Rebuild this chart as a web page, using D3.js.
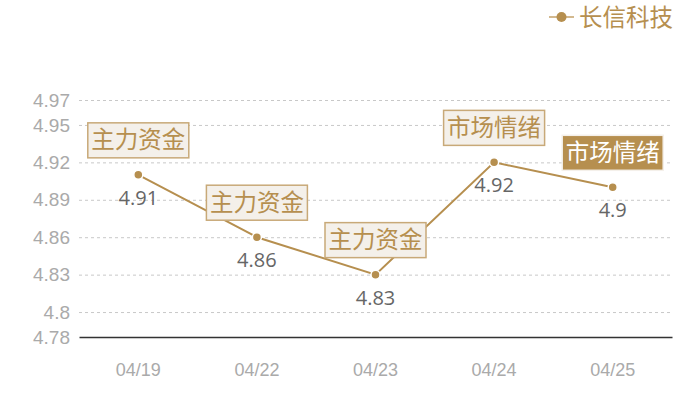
<!DOCTYPE html>
<html>
<head>
<meta charset="utf-8">
<script src="https://cdn.jsdelivr.net/npm/d3@7"></script>
<style>
  body { margin: 0; background: #fff; }
  svg { font-family: "Open Sans", "Noto Sans CJK SC", sans-serif; }
</style>
</head>
<body>
<div id="chart"></div>
<script>
// data
var dates = ['04/19', '04/22', '04/23', '04/24', '04/25']
var prices = [4.91, 4.86, 4.83, 4.92, 4.9]
var tags = ['主力资金', '主力资金', '主力资金', '市场情绪', '市场情绪']
var yTicks = [4.78, 4.8, 4.83, 4.86, 4.89, 4.92, 4.95, 4.97]
var seriesName = '长信科技'

var W = 700, H = 400
var gold = '#b68f4f'
var margin = { top: 100, right: 28, bottom: 63, left: 79 }
var width = W - margin.left - margin.right
var height = H - margin.top - margin.bottom

var x = d3.scaleBand().domain(dates).range([0, width])
var y = d3.scaleLinear().domain([4.78, 4.97]).range([height, 0])

var svg = d3.select('#chart').append('svg')
  .attr('width', W)
  .attr('height', H)
var g = svg.append('g')
  .attr('transform', 'translate(' + margin.left + ',' + margin.top + ')')

// grid lines (dashed)
g.append('g')
  .selectAll('line')
  .data(yTicks.filter(function(d) { return d !== 4.78 }))
  .enter().append('line')
  .attr('x1', 0).attr('x2', width)
  .attr('y1', function(d) { return y(d) + 0.5 })
  .attr('y2', function(d) { return y(d) + 0.5 })
  .attr('stroke', '#c8c8c8')
  .attr('stroke-dasharray', '3,3')

// y axis
var yAxis = g.append('g')
  .call(d3.axisLeft(y).tickValues(yTicks).tickSize(0).tickPadding(9)
    .tickFormat(function(d) { return String(d) }))
yAxis.select('.domain').remove()
yAxis.selectAll('text')
  .attr('fill', '#aaaaaa')
  .style('font-size', '19px')

// x axis
var xAxis = g.append('g')
  .attr('transform', 'translate(0,' + height + ')')
  .call(d3.axisBottom(x).tickSize(0).tickPadding(26))
xAxis.select('.domain').attr('stroke', '#333333').attr('stroke-width', 1.5)
xAxis.selectAll('text')
  .attr('fill', '#aaaaaa')
  .style('font-size', '18px')

var cx = function(d, i) { return x(dates[i]) + x.bandwidth() / 2 }

// the line
var valueline = d3.line()
  .x(function(d, i) { return cx(d, i) })
  .y(function(d) { return y(d) })
g.append('path')
  .datum(prices)
  .attr('fill', 'none')
  .attr('stroke', gold)
  .attr('stroke-width', 2)
  .attr('d', valueline)

// points
g.selectAll('circle.pt')
  .data(prices)
  .enter().append('circle')
  .attr('class', 'pt')
  .attr('cx', cx)
  .attr('cy', function(d) { return y(d) })
  .attr('r', 4.5)
  .attr('fill', gold)
  .attr('stroke', '#fff')
  .attr('stroke-width', 1.5)

// value labels
g.selectAll('text.val')
  .data(prices)
  .enter().append('text')
  .attr('class', 'val')
  .attr('x', cx)
  .attr('y', function(d) { return y(d) + 30 })
  .attr('text-anchor', 'middle')
  .attr('fill', '#666666')
  .style('font-size', '20px')
  .text(function(d) { return String(d) })

// tag boxes above the points
var bw = 101, bh = 35
var tagG = g.selectAll('g.tag')
  .data(prices)
  .enter().append('g')
  .attr('class', 'tag')
  .attr('transform', function(d, i) {
    return 'translate(' + (cx(d, i) - bw / 2) + ',' + (y(d) - 17 - bh) + ')'
  })
tagG.append('rect')
  .attr('width', bw).attr('height', bh)
  .attr('fill', function(d, i) { return i === 4 ? gold : '#f4f0ea' })
  .attr('stroke', function(d, i) { return i === 4 ? '#f4f0ea' : '#c8a978' })
  .attr('stroke-width', 1.5)
tagG.append('text')
  .attr('x', bw / 2)
  .attr('y', bh / 2 + 8)
  .attr('text-anchor', 'middle')
  .attr('fill', function(d, i) { return i === 4 ? '#ffffff' : gold })
  .style('font-size', '23.5px')
  .text(function(d, i) { return tags[i] })

// legend
var lg = svg.append('g').attr('transform', 'translate(549,17)')
lg.append('line')
  .attr('x1', 0).attr('x2', 25)
  .attr('stroke', '#d3b98f').attr('stroke-width', 2)
lg.append('circle')
  .attr('cx', 12.5).attr('r', 5)
  .attr('fill', gold)
lg.append('text')
  .attr('x', 30).attr('y', 8.5)
  .attr('fill', gold)
  .style('font-size', '23.5px')
  .text(seriesName)
</script>
</body>
</html>
